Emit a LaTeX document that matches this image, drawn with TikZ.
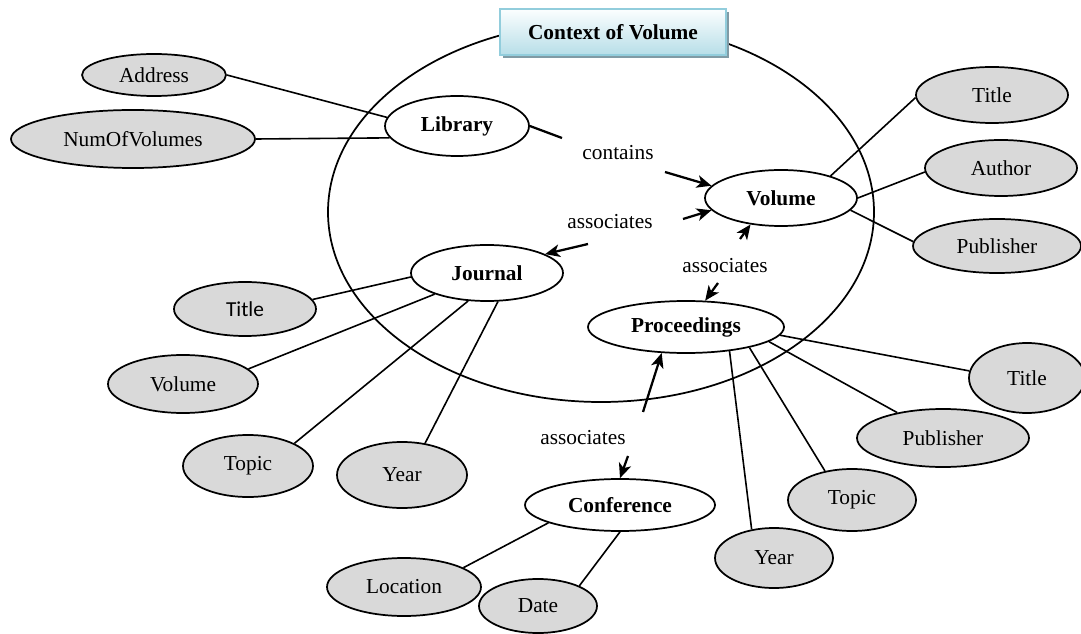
\documentclass[tikz,border=0pt]{standalone}
\usepackage{fontspec}
\setmainfont{Liberation Serif}
\newfontfamily\calibrifont{Carlito}
\usetikzlibrary{shapes.geometric,arrows.meta,shadows}
\definecolor{attrgrey}{RGB}{217,217,217}
\definecolor{boxtop}{RGB}{252,254,255}
\definecolor{boxbot}{RGB}{183,222,232}
\definecolor{boxline}{RGB}{146,205,220}
\definecolor{boxshadow}{RGB}{128,155,165}
\begin{document}
\begin{tikzpicture}[x=0.75pt,y=-0.75pt,
  font=\fontsize{16}{19}\selectfont,
  ent/.style 2 args={ellipse, draw, line width=1.3pt, fill=white, inner sep=0pt,
    minimum width=#1*1.5pt, minimum height=#2*1.5pt,
    font=\fontsize{16}{19}\selectfont\bfseries},
  attr/.style 2 args={ellipse, draw, line width=1.3pt, fill=attrgrey, inner sep=0pt,
    minimum width=#1*1.5pt, minimum height=#2*1.5pt},
  context/.style={ellipse, draw, line width=1.3pt, inner sep=0pt,
    minimum width=409.5pt, minimum height=285pt},
  titlebox/.style={rectangle, draw=boxline, line width=2pt, top color=boxtop, bottom color=boxbot,
    minimum width=169.5pt, minimum height=34.5pt, inner sep=0pt,
    font=\fontsize{16}{19}\selectfont\bfseries,
    drop shadow={shadow xshift=2.5pt, shadow yshift=-2.5pt, fill=boxshadow, opacity=1}},
  link/.style={line width=1.2pt},
  thick link/.style={line width=1.7pt},
  rel/.style={line width=1.7pt, -{Stealth[length=11pt,width=9.5pt,inset=3pt]}},
  rellabel/.style={inner sep=0pt},
]
\useasboundingbox (0,0) rectangle (1081,634);

% context ellipse and title
\node[context] (ctxell) at (601,212) {};
\node[titlebox] (ctx) at (613,32) {Context of Volume};

% entities
\node[ent={72}{30}] (Library) at (457,126) {Library};
\node[ent={76}{28}] (Volume) at (781,198) {Volume};
\node[ent={76}{28}] (Journal) at (487,273) {Journal};
\node[ent={98}{26}] (Proceedings) at (686,327) {Proceedings};
\node[ent={95}{26}] (Conference) at (620,505) {Conference};

% attributes
\node[attr={72}{21}] (Address) at (154,75) {Address};
\node[attr={122}{29}] (NumOfVolumes) at (133,139) {NumOfVolumes};
\node[attr={76}{28}] (VTitle) at (992,95) {Title};
\node[attr={76}{28}] (VAuthor) at (1001,168) {Author};
\node[attr={84}{27}] (VPublisher) at (997,246) {Publisher};
\node[attr={71}{27}] (JTitle) at (245,309) {\calibrifont Title};
\node[attr={75}{29}] (JVolume) at (183,384) {Volume};
\node[attr={65}{31}] (JTopic) at (248,466) {Topic};
\node[attr={65}{33}] (JYear) at (402,475) {Year};
\node[attr={58}{35}] (PTitle) at (1027,378) {Title};
\node[attr={86}{29}] (PPublisher) at (943,438) {Publisher};
\node[attr={64}{31}] (PTopic) at (852,500) {Topic};
\node[attr={59}{30}] (PYear) at (774,558) {Year};
\node[attr={77}{29}] (Location) at (404,587) {Location};
\node[attr={59}{27}] (Date) at (538,606) {Date};

% attribute links
\draw[link] (Address.east) -- (Library.173);
\draw[link] (NumOfVolumes.east) -- (Library.190);
\draw[link] (Volume.24) -- (VTitle.182);
\draw[link] (Volume.east) -- (VAuthor.183);
\draw[link] (Volume.-10) -- (VPublisher.177);
\draw[link] (JTitle.8) -- (Journal.183);
\draw[link] (JVolume.13) -- (Journal.202);
\draw[link] (JTopic.26) -- (Journal.236);
\draw[link] (JYear.54) -- (Journal.291);
\draw[link] (Proceedings.-5) -- (PTitle.173);
\draw[link] (Proceedings.-10) -- (PPublisher.151);
\draw[link] (Proceedings.-18) -- (PTopic.133);
\draw[link] (Proceedings.-29) -- (PYear.128);
\draw[link] (Conference.194) -- (Location.18);
\draw[link] (Conference.south) -- (Date.26);

% relationships
\coordinate (cA) at (562,138);
\coordinate (cB) at (665,172);
\draw[thick link] (Library.east) -- (cA);
\draw[rel] (cB) -- (Volume.170);
\node[rellabel] (lContains) at (618,153) {contains};

\coordinate (cC) at (588,244);
\coordinate (cD) at (683,219);
\draw[rel] (cC) -- (Journal.18);
\draw[rel] (cD) -- (Volume.190);
\node[rellabel] (lAssocJV) at (610,222) {associates};

\coordinate (cE) at (740,239);
\coordinate (cF) at (718,283);
\draw[rel] (cE) -- (Volume.221);
\draw[rel] (cF) -- (Proceedings.54);
\node[rellabel] (lAssocPV) at (725,266) {associates};

\coordinate (cG) at (643,412);
\coordinate (cH) at (628,456);
\draw[rel] (cG) -- (Proceedings.227);
\draw[rel] (cH) -- (Conference.north);
\node[rellabel] (lAssocCP) at (583,438) {associates};
\end{tikzpicture}
\end{document}
